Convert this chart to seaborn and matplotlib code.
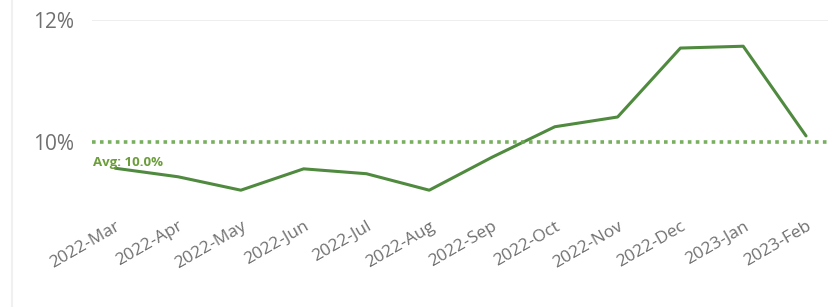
import numpy as np
import pandas as pd
import seaborn as sns
from matplotlib import pyplot as plt
from matplotlib.lines import Line2D

# monthly values (%)
months = ['2022-Mar', '2022-Apr', '2022-May', '2022-Jun', '2022-Jul', '2022-Aug',
          '2022-Sep', '2022-Oct', '2022-Nov', '2022-Dec', '2023-Jan', '2023-Feb']
values = [9.57, 9.43, 9.21, 9.56, 9.48, 9.21, 9.75, 10.25, 10.41, 11.54, 11.57, 10.10]
avg_value = 10.0
ytick_vals = [10, 12]

sns.set_style("white")
plt.rcParams['font.family'] = ['Segoe UI', 'Open Sans', 'DejaVu Sans']

df = pd.DataFrame({'Month': months, 'Value': values})
df['pos'] = np.arange(len(months))

fig = plt.figure(figsize=(8.34, 3.07), dpi=100)
ax = fig.add_axes([92/834, 1 - 203/307, (828 - 92)/834, (203 - 20)/307])

sns.lineplot(data=df, x='pos', y='Value', color='#4f8a3f', linewidth=2.2, ax=ax)

# average line
ax.axhline(avg_value, color='#6aa84f', linestyle=(0, (1, 1.2)), linewidth=2.6, alpha=0.9)
ax.text(0.002, avg_value - 0.33, f'Avg: {avg_value:.1f}%', color='#6b9e3a', fontsize=9.5,
        fontweight='bold', va='center', ha='left', transform=ax.get_yaxis_transform())

# 12% gridline
ax.axhline(12, color='#ebebeb', linewidth=1.2, zorder=0)

ax.set_xlim(-0.37, 11.35)
ax.set_ylim(9.0, 12.0)
ax.set_yticks(ytick_vals)
ax.set_yticklabels([f'{v}%' for v in ytick_vals], fontsize=15, color='#707070')
ax.set_xticks(df['pos'])
ax.set_xticklabels(months, rotation=30, ha='right', rotation_mode='anchor',
                   fontsize=12.5, color='#707070')
ax.tick_params(axis='both', length=0)
ax.tick_params(axis='x', pad=11)
ax.tick_params(axis='y', pad=13)
ax.set_xlabel('')
ax.set_ylabel('')
for s in ax.spines.values():
    s.set_visible(False)

# faint left border of the visual
fig.add_artist(Line2D([12/834, 12/834], [0, 1], color='#f0f0f0', linewidth=1.5,
                      transform=fig.transFigure))

plt.savefig('out.png', dpi=100)
